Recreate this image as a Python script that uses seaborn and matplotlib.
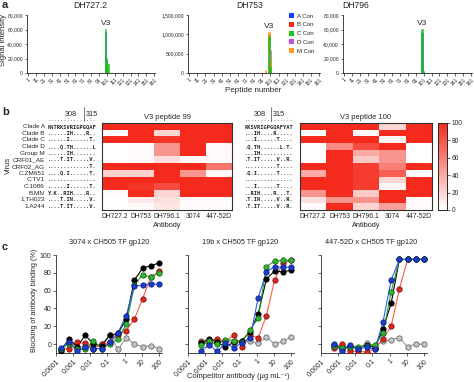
import matplotlib
matplotlib.use("Agg")
import matplotlib.pyplot as plt
import matplotlib.transforms as mtrans
from matplotlib.colors import LinearSegmentedColormap
from matplotlib.ticker import FuncFormatter
from matplotlib.patches import Patch
from matplotlib.lines import Line2D
import pandas as pd
import seaborn as sns

# ---- panel a: peptide array signal ----
peptides = [95, 96, 97, 98, 99, 100, 101, 102, 103]
clades = ["A Con", "B Con", "C Con", "D Con", "M Con"]
clade_colors = ["#1a3cff", "#ff2a10", "#1fc21f", "#c64fe6", "#ff9a1a"]
pep_ticks = [1, 11, 21, 31, 41, 51, 61, 71, 81, 91, 101, 111, 121, 131, 141, 151, 161]
draw_order = [0, 1, 3, 4, 2]  # green drawn last so it sits on top

dh727 = [
    [0, 0, 0, 0, 56000, 18000, 2000, 0, 0],
    [0, 0, 0, 0, 0, 0, 0, 0, 0],
    [0, 0, 0, 0, 61000, 21000, 3000, 12000, 0],
    [0, 0, 0, 0, 0, 0, 0, 0, 0],
    [0, 0, 0, 0, 0, 0, 0, 0, 0],
]
dh753 = [
    [0, 0, 0, 0, 900000, 200000, 0, 0, 0],
    [0, 0, 0, 0, 1000000, 300000, 250000, 0, 0],
    [0, 0, 0, 0, 950000, 150000, 0, 0, 0],
    [0, 0, 0, 0, 500000, 300000, 590000, 0, 0],
    [80000, 0, 0, 0, 1050000, 350000, 0, 0, 0],
]
dh796 = [
    [0, 0, 0, 0, 55000, 2000, 0, 0, 0],
    [0, 0, 0, 0, 0, 0, 0, 0, 0],
    [0, 0, 0, 0, 61000, 3000, 0, 0, 0],
    [0, 0, 0, 0, 0, 0, 0, 0, 0],
    [0, 0, 0, 0, 0, 0, 0, 0, 0],
]

# ---- panel b: heatmaps ----
viruses = ["Clade A", "Clade B", "Clade C", "Clade D", "Group M", "CRF01_AE", "CRF02_AG",
           "C.ZM651", "C.TV1", "C.1086", "B.MN", "1.TH023", "1.A244"]
antibodies = ["DH727.2", "DH753", "DH796.1", "3074", "447-52D"]
seq99 = ["NNTRKSVRIGPGQAF", "......IH....R..", "......I......T.", "....Q.TH......L",
         "......IH.......", "....T.IT.....V.", ".............T.", "....Q.I......T.",
         "...............", "......I......T.", "Y.K..RIH....R..", "....T.IN.....V.",
         "....T.IT.....V."]
seq100 = ["RKSVRIGPGQAFYAT", "...IH....R.....", "...I......T....", ".Q.TH......L.T.",
          "...IH..........", ".T.IT.....V..R.", "..........T....", ".Q.I......T....",
          "...............", "...I......T....", "..RIH....R...T.", ".T.IN.....V..R.",
          ".T.IT.....V..R."]
pep99 = [
    [100, 100, 100, 100, 100],
    [3, 100, 20, 100, 100],
    [100, 100, 95, 100, 100],
    [0, 2, 50, 100, 3],
    [0, 2, 50, 100, 3],
    [0, 2, 15, 3, 2],
    [100, 100, 100, 100, 65],
    [22, 22, 100, 50, 3],
    [100, 100, 100, 100, 100],
    [100, 95, 85, 100, 100],
    [2, 100, 20, 100, 100],
    [0, 10, 15, 3, 3],
    [0, 3, 12, 2, 2],
]
pep100 = [
    [100, 100, 100, 20, 100],
    [0, 100, 3, 100, 100],
    [100, 100, 100, 5, 100],
    [0, 55, 85, 100, 0],
    [0, 100, 40, 50, 0],
    [0, 100, 25, 50, 0],
    [100, 100, 92, 60, 100],
    [40, 100, 92, 75, 2],
    [100, 100, 92, 20, 100],
    [100, 100, 92, 5, 100],
    [50, 100, 25, 100, 100],
    [15, 50, 50, 100, 2],
    [2, 100, 20, 45, 2],
]

# ---- panel c: competition curves ----
conc = [0.000188, 0.000565, 0.00169, 0.00508, 0.0152, 0.0457, 0.137, 0.412,
        1.23, 3.70, 11.1, 33.3, 100]
c1_gray = [-5, 2, -4, -2, -5, 0, 10, -6, 7, 0, -3, -2, -5]
c1_red = [-5, -5, 2, 1, -5, 0, 2, 10, 15, 28, 51, 75, 82]
c1_black = [-8, 6, -3, 10, 0, -2, 10, 12, 28, 72, 85, 88, 91]
c1_green = [-5, 0, -6, -6, 4, -5, 0, 6, 22, 66, 78, 75, 80]
c1_blue = [-4, 2, -8, -3, -5, -5, 2, 13, 32, 65, 66, 68, 67]

c2_gray = [3, 0, 2, 4, 1, 3, 3, 1, 8, 0, 3, 8]
c2_red = [2, 4, 6, 3, 10, -3, 10, 7, 32, 72, 91, 94]
c2_black = [1, 6, 2, -3, 2, 4, 14, 34, 73, 82, 81, 83]
c2_green = [-1, 3, 0, 5, 4, 2, 16, 29, 87, 93, 94, 94]
c2_blue = [-8, -1, -8, 1, -4, 1, 7, 52, 81, 87, 86, 87]

c3_gray = [-3, -2, -4, -5, 1, -2, 3, 5, 7, -3, 0, 0]
c3_red = [-4, 0, -8, -8, -9, -5, 6, 20, 62, 95, 95, 95]
c3_black = [-1, -5, -2, -4, -1, -4, 17, 46, 95, 95, 95, 95]
c3_green = [-2, -4, -3, -3, -2, -1, 12, 59, 95, 95, 95, 95]
c3_blue = [0, -8, -1, -6, -3, -6, 25, 72, 95, 95, 95, 95]

conc_ticks = [0.0001, 0.001, 0.01, 0.1, 1, 10, 100]
conc_labels = ["0.0001", "0.001", "0.01", "0.1", "1", "10", "100"]
line_cols = ["#9a9a9a", "#ff5a48", "#000000", "#22a022", "#2d5cff"]
fill_cols = ["#c4c4c4", "#e0261a", "#000000", "#30b530", "#1a3ccf"]
edge_cols = ["#555555", "#6a1010", "#000000", "#145214", "#0e1f6a"]

sns.set_style("ticks")
plt.rcParams["font.family"] = ["Liberation Sans", "DejaVu Sans"]
plt.rcParams["axes.linewidth"] = 0.6

W, H = 474, 382
fig = plt.figure(figsize=(W / 100, H / 100), dpi=100)


def box(x0, y0, x1, y1):
    return [x0 / W, 1 - y1 / H, (x1 - x0) / W, (y1 - y0) / H]


def ftext(x, y, s, **kw):
    fig.text(x / W, 1 - y / H, s, **kw)


# panel letters
ftext(2, 5, "a", fontsize=8, fontweight="bold", va="center")
ftext(2, 112, "b", fontsize=8, fontweight="bold", va="center")
ftext(2, 247, "c", fontsize=8, fontweight="bold", va="center")

# ---- a ----
comma = FuncFormatter(lambda v, p: f"{int(v):,}")
a_specs = [
    (dh727, box(27, 15, 155, 73), 80000, [0, 20000, 40000, 60000, 80000], "DH727.2", 90, 64000),
    (dh753, box(188, 15, 320, 73), 1500000, [0, 500000, 1000000, 1500000], "DH753", 250, 1110000),
    (dh796, box(343, 15, 472, 73), 80000, [0, 20000, 40000, 60000, 80000], "DH796", 356, 64000),
]
for data, rect, ymax, yt, title, tx, v3y in a_specs:
    ax = fig.add_axes(rect)
    for ci in draw_order:
        ax.bar(peptides, data[ci], width=2.2, color=clade_colors[ci], alpha=0.9,
               edgecolor=clade_colors[ci], linewidth=0.4)
    ax.set_xlim(-0.5, 162)
    ax.set_ylim(0, ymax)
    ax.set_yticks(yt)
    ax.yaxis.set_major_formatter(comma)
    ax.set_xticks(pep_ticks)
    ax.set_xticklabels([str(t) for t in pep_ticks], rotation=45, ha="right", rotation_mode="anchor")
    ax.tick_params(labelsize=3.6, length=1.8, width=0.5, pad=1)
    sns.despine(ax=ax)
    ax.text(99.5, v3y, "V3", fontsize=6, ha="center", va="bottom")
    ftext(tx, 5, title, fontsize=6.2, ha="center", va="center")

ftext(4, 40, "Signal intensity", fontsize=5.5, rotation=90, ha="center", va="center")
ftext(253, 91, "Peptide number", fontsize=5.8, ha="center", va="center")
fig.legend([Patch(facecolor=c, linewidth=0) for c in clade_colors], clades,
           loc="upper left", bbox_to_anchor=(289 / W, 1 - 13 / H), frameon=False,
           fontsize=4.3, handlelength=0.9, handleheight=0.9, labelspacing=0.55,
           handletextpad=0.5, borderpad=0, borderaxespad=0)

# ---- b ----
cmap = LinearSegmentedColormap.from_list("wr", ["#ffffff", "#f42b1c"])
h1 = fig.add_axes(box(102, 123, 232, 210))
h2 = fig.add_axes(box(300, 123, 432, 210))
cax = fig.add_axes(box(438, 123, 447, 210))

for ax, vals, seqs, title, with_names, cb in [
    (h1, pep99, seq99, "V3 peptide 99", True, False),
    (h2, pep100, seq100, "V3 peptide 100", False, True),
]:
    df = pd.DataFrame(vals, index=viruses, columns=antibodies)
    sns.heatmap(df, ax=ax, cmap=cmap, vmin=0, vmax=100, cbar=cb,
                cbar_ax=cax if cb else None, xticklabels=antibodies, yticklabels=False)
    for s in ax.spines.values():
        s.set_visible(True)
        s.set_linewidth(0.8)
        s.set_color("#333333")
    ax.tick_params(length=0, labelsize=4.9, pad=2)
    ax.set_xticklabels(antibodies, rotation=0)
    ax.set_xlabel("Antibody", fontsize=5.3, labelpad=1.5)
    ax.set_ylabel("")
    ax.set_title(title, fontsize=5.4, pad=3)
    tr = mtrans.blended_transform_factory(ax.transAxes, ax.transData)
    seq_x = (48 - 102) / 130 if with_names else (245 - 300) / 132
    for i, s in enumerate(seqs):
        ax.text(seq_x, i + 0.5, s, transform=tr, fontsize=3.9, family="DejaVu Sans Mono",
                fontweight="bold", ha="left", va="center")
        if with_names:
            ax.text(-0.44, i + 0.5, viruses[i], transform=tr, fontsize=4.6,
                    ha="right", va="center")
    ax.text(seq_x, -0.45, "......:......:.", transform=tr, fontsize=3.9,
            family="DejaVu Sans Mono", color="#555555", ha="left", va="center")

cax.tick_params(labelsize=4.8, length=1.8, width=0.5, pad=1.5)
cax.set_yticks([0, 20, 40, 60, 80, 100])
for s in cax.spines.values():
    s.set_visible(True)
    s.set_linewidth(0.6)

for x308, xbar, x315 in [(77, 83.5, 86), (266, 271, 273)]:
    ftext(x308, 114, "308", fontsize=5.2, ha="right", va="center")
    ftext(x315, 114, "315", fontsize=5.2, ha="left", va="center")
    fig.add_artist(Line2D([xbar / W, xbar / W], [1 - 107 / H, 1 - 121 / H],
                          color="#444444", lw=0.5))
ftext(8, 165, "Virus", fontsize=5.4, rotation=90, ha="center", va="center")

# ---- c ----
c_specs = [
    (box(56, 255, 162, 353), conc, [c1_gray, c1_red, c1_black, c1_green, c1_blue],
     "3074 x CH505 TF gp120", 109, True),
    (box(188, 255, 294, 353), conc[1:], [c2_gray, c2_red, c2_black, c2_green, c2_blue],
     "19b x CH505 TF gp120", 240, False),
    (box(321, 255, 427, 353), conc[1:], [c3_gray, c3_red, c3_black, c3_green, c3_blue],
     "447-52D x CH505 TF gp120", 371, False),
]
for rect, xs, series, title, tx, show_y in c_specs:
    ax = fig.add_axes(rect)
    for vals, lc, fc, ec in zip(series, line_cols, fill_cols, edge_cols):
        sns.lineplot(x=xs, y=vals, ax=ax, color=lc, lw=0.8, zorder=2)
        sns.scatterplot(x=xs, y=vals, ax=ax, color=fc, edgecolor=ec, linewidth=0.5,
                        s=15, zorder=3)
    ax.set_xscale("log")
    ax.set_xlim(0.0001, 150)
    ax.set_ylim(-10, 100)
    ax.set_xticks(conc_ticks)
    ax.set_xticklabels(conc_labels, rotation=45, ha="right", rotation_mode="anchor")
    ax.minorticks_off()
    ax.set_yticks([0, 20, 40, 60, 80, 100])
    if not show_y:
        ax.set_yticklabels([])
    ax.tick_params(labelsize=5.0, length=2, width=0.5, pad=1.5)
    sns.despine(ax=ax)
    ftext(tx, 243, title, fontsize=5.3, ha="center", va="center")

ftext(35, 300, "Blocking of antibody binding (%)", fontsize=5.2, rotation=90,
      ha="center", va="center")
ftext(238, 377, "Competitor antibody (μg mL⁻¹)", fontsize=5.4, ha="center", va="center")

fig.savefig("out.png", dpi=100)
